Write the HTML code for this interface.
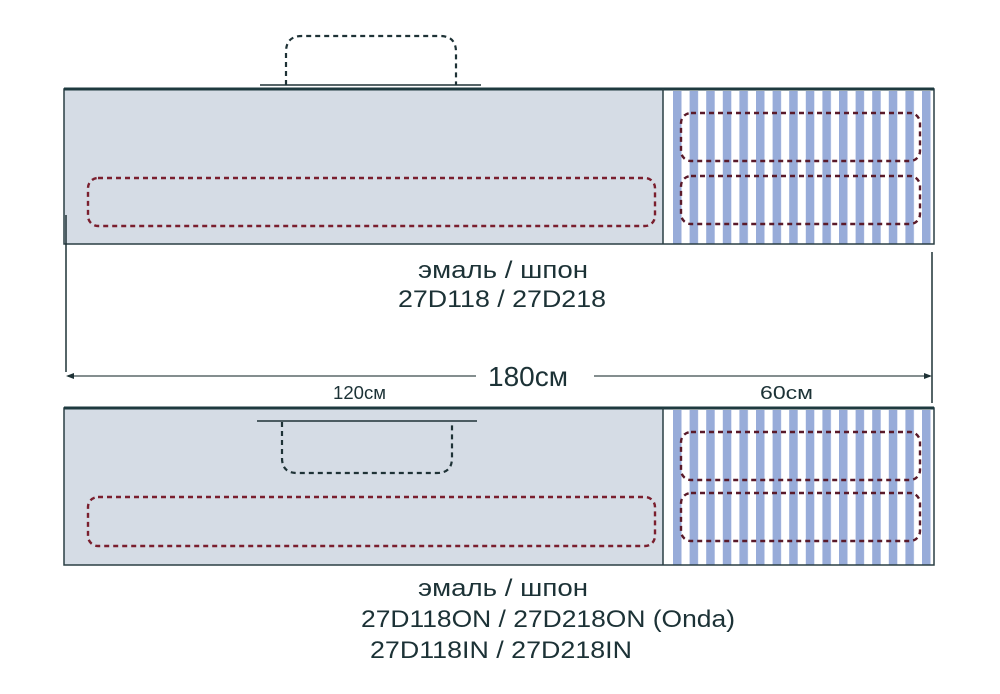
<!DOCTYPE html>
<html><head><meta charset="utf-8"><style>
html,body{margin:0;padding:0;background:#fff;}
svg{display:block;}
text{font-family:"Liberation Sans","DejaVu Sans",sans-serif;fill:#1c3236;}
</style></head><body>
<svg width="1000" height="694" viewBox="0 0 1000 694" xmlns="http://www.w3.org/2000/svg">
<defs>
<pattern id="st" x="673" y="0" width="16.6" height="10" patternUnits="userSpaceOnUse">
<rect x="0" y="0" width="8.5" height="10" fill="#98acd9"/>
</pattern>
</defs>
<!-- top panel -->
<rect x="64" y="89" width="599" height="155" fill="#d5dce5"/>
<rect x="663" y="89" width="271" height="155" fill="#fff"/>
<rect x="673" y="91" width="260" height="153" fill="url(#st)"/>
<rect x="64" y="89" width="870" height="155" fill="none" stroke="#2a3f44" stroke-width="1.5"/>
<line x1="64" y1="89" x2="934" y2="89" stroke="#1e3a3f" stroke-width="3"/>
<line x1="663" y1="89" x2="663" y2="244" stroke="#2a3f44" stroke-width="1.5"/>
<path d="M286 85 V52 Q286 36 302 36 H440 Q456 36 456 52 V85" fill="none" stroke="#1e3236" stroke-width="2.2" stroke-dasharray="5,4"/>
<line x1="260" y1="85" x2="481" y2="85" stroke="#1e3236" stroke-width="1.5"/>
<rect x="88" y="178" width="567" height="48" rx="10" fill="none" stroke="#7a1f2e" stroke-width="2.4" stroke-dasharray="5,4"/>
<rect x="681" y="113" width="239" height="48" rx="10" fill="none" stroke="#5a1a2a" stroke-width="2.4" stroke-dasharray="5,4"/>
<rect x="681" y="176" width="239" height="48" rx="10" fill="none" stroke="#5a1a2a" stroke-width="2.4" stroke-dasharray="5,4"/>

<text x="418" y="278" font-size="24" textLength="170" lengthAdjust="spacingAndGlyphs">эмаль / шпон</text>
<text x="398" y="307" font-size="24" textLength="208" lengthAdjust="spacingAndGlyphs">27D118 / 27D218</text>

<!-- dimension -->
<line x1="66" y1="215" x2="66" y2="372" stroke="#1e3236" stroke-width="1.5"/>
<line x1="932" y1="252" x2="932" y2="403" stroke="#1e3236" stroke-width="1.5"/>
<line x1="68" y1="376" x2="476" y2="376" stroke="#3a4a4c" stroke-width="1.2"/>
<line x1="594" y1="376" x2="930" y2="376" stroke="#3a4a4c" stroke-width="1.2"/>
<path d="M66 376 L74 373 L74 379 Z" fill="#1e3236"/>
<path d="M932 376 L924 373 L924 379 Z" fill="#1e3236"/>
<text x="488" y="386" font-size="28" textLength="80" lengthAdjust="spacingAndGlyphs">180см</text>
<text x="333" y="399" font-size="18" textLength="53" lengthAdjust="spacingAndGlyphs">120см</text>
<text x="760" y="399" font-size="18" textLength="53" lengthAdjust="spacingAndGlyphs">60см</text>

<!-- bottom panel -->
<rect x="64" y="408" width="599" height="157" fill="#d5dce5"/>
<rect x="663" y="408" width="271" height="157" fill="#fff"/>
<rect x="673" y="410" width="260" height="155" fill="url(#st)"/>
<rect x="64" y="408" width="870" height="157" fill="none" stroke="#2a3f44" stroke-width="1.5"/>
<line x1="64" y1="408" x2="934" y2="408" stroke="#1e3a3f" stroke-width="3"/>
<line x1="663" y1="408" x2="663" y2="565" stroke="#2a3f44" stroke-width="1.5"/>
<line x1="257" y1="421" x2="477" y2="421" stroke="#1e3236" stroke-width="1.5"/>
<path d="M282 422 V458 Q282 473 297 473 H437 Q452 473 452 458 V422" fill="none" stroke="#1e3236" stroke-width="2.2" stroke-dasharray="5,4"/>
<rect x="88" y="497" width="567" height="49" rx="10" fill="none" stroke="#7a1f2e" stroke-width="2.4" stroke-dasharray="5,4"/>
<rect x="681" y="432" width="239" height="48" rx="10" fill="none" stroke="#5a1a2a" stroke-width="2.4" stroke-dasharray="5,4"/>
<rect x="681" y="493" width="239" height="48" rx="10" fill="none" stroke="#5a1a2a" stroke-width="2.4" stroke-dasharray="5,4"/>

<text x="418" y="596" font-size="24" textLength="170" lengthAdjust="spacingAndGlyphs">эмаль / шпон</text>
<text x="361" y="627" font-size="24" textLength="374" lengthAdjust="spacingAndGlyphs">27D118ON / 27D218ON  (Onda)</text>
<text x="370" y="658" font-size="24" textLength="262" lengthAdjust="spacingAndGlyphs">27D118IN / 27D218IN</text>
</svg>
</body></html>
